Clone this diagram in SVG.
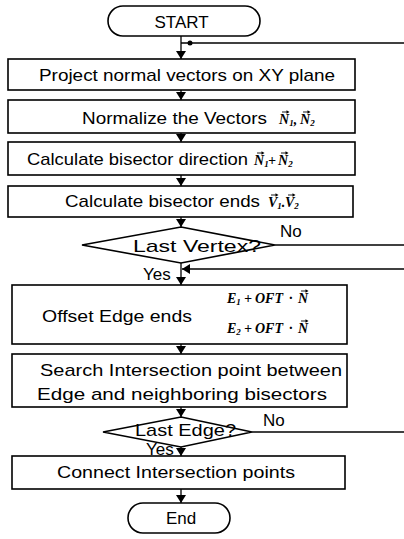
<svg xmlns="http://www.w3.org/2000/svg" xmlns:xlink="http://www.w3.org/1999/xlink" width="404" height="539" viewBox="0 0 404 539">
<style>
.box{fill:#fff;stroke:#000;stroke-width:1.6}
.ln{fill:none;stroke:#000;stroke-width:1.3}
.t{font-family:"Liberation Sans",Arial,sans-serif;font-size:17px;fill:#000}
.m{font-family:"Liberation Serif","Times New Roman",serif;font-style:italic;font-weight:bold;font-size:14px;fill:#000}
.s{font-size:9px}
</style>
<defs>
<marker id="ah" viewBox="0 0 8 10" refX="8" refY="5" markerWidth="8" markerHeight="10" markerUnits="userSpaceOnUse" orient="auto">
<path d="M0,0 L8,5 L0,10 z" fill="#000"/>
</marker>
<g id="vec">
<path d="M0,0 H6" stroke="#000" stroke-width="0.9" fill="none"/>
<path d="M4.5,-1.8 L7.5,0 L4.5,1.8 z" fill="#000"/>
</g>
</defs>
<rect width="404" height="539" fill="#fff"/>
<g id="connectors">
<line class="ln" x1="181" y1="36" x2="181" y2="59" marker-end="url(#ah)"/>
<line class="ln" x1="181" y1="43" x2="404" y2="43"/>
<circle cx="190" cy="43" r="2.5" fill="#000"/>
<line class="ln" x1="181" y1="90" x2="181" y2="100" marker-end="url(#ah)"/>
<line class="ln" x1="181" y1="133" x2="181" y2="142" marker-end="url(#ah)"/>
<line class="ln" x1="181" y1="175" x2="181" y2="186" marker-end="url(#ah)"/>
<line class="ln" x1="181" y1="217" x2="181" y2="227" marker-end="url(#ah)"/>
<line class="ln" x1="275" y1="245" x2="404" y2="245"/>
<line class="ln" x1="181" y1="263" x2="181" y2="285" marker-end="url(#ah)"/>
<line class="ln" x1="404" y1="269" x2="182" y2="269" marker-end="url(#ah)"/>
<line class="ln" x1="181" y1="344" x2="181" y2="354" marker-end="url(#ah)"/>
<line class="ln" x1="181" y1="407" x2="181" y2="417" marker-end="url(#ah)"/>
<line class="ln" x1="252" y1="432" x2="404" y2="432"/>
<line class="ln" x1="181" y1="447" x2="181" y2="456" marker-end="url(#ah)"/>
<line class="ln" x1="181" y1="489" x2="181" y2="503" marker-end="url(#ah)"/>
<text class="t" x="280" y="237" font-size="15">No</text>
<text class="t" x="143" y="280" font-size="15">Yes</text>
<text class="t" x="263" y="426" font-size="15">No</text>
<text class="t" x="146" y="455" font-size="13">Yes</text>
</g>
<g id="start">
<rect class="box" x="108" y="6" width="152" height="30" rx="15"/>
<text class="t" x="181.5" y="28" text-anchor="middle" font-size="15">START</text>
</g>
<g id="project">
<rect class="box" x="8" y="59" width="347" height="31"/>
<text class="t" x="39" y="81" textLength="296" lengthAdjust="spacingAndGlyphs">Project normal vectors on XY plane</text>
</g>
<g id="normalize">
<rect class="box" x="8" y="100" width="347" height="33"/>
<text class="t" x="82" y="124" textLength="185" lengthAdjust="spacingAndGlyphs">Normalize the Vectors</text>
<text class="m" y="124"><tspan x="279">N</tspan><tspan class="s" dy="2">1</tspan><tspan dy="-2">,</tspan><tspan x="300">N</tspan><tspan class="s" dy="2">2</tspan></text>
<use xlink:href="#vec" x="282" y="112"/>
<use xlink:href="#vec" x="303" y="112"/>
</g>
<g id="direction">
<rect class="box" x="8" y="142" width="347" height="33"/>
<text class="t" x="27" y="165" textLength="221" lengthAdjust="spacingAndGlyphs">Calculate bisector direction</text>
<text class="m" y="165"><tspan x="254">N</tspan><tspan class="s" dy="2">1</tspan><tspan dy="-2" x="268">+</tspan><tspan x="278">N</tspan><tspan class="s" dy="2">2</tspan></text>
<use xlink:href="#vec" x="257" y="153"/>
<use xlink:href="#vec" x="281" y="153"/>
</g>
<g id="ends">
<rect class="box" x="8" y="186" width="345" height="31"/>
<text class="t" x="65" y="207" textLength="195" lengthAdjust="spacingAndGlyphs">Calculate bisector ends</text>
<text class="m" y="207"><tspan x="268">V</tspan><tspan class="s" dy="2">1</tspan><tspan dy="-2">.</tspan><tspan x="285">V</tspan><tspan class="s" dy="2">2</tspan></text>
<use xlink:href="#vec" x="271" y="195"/>
<use xlink:href="#vec" x="288" y="195"/>
</g>
<g id="lastvertex">
<polygon class="box" points="181,227 275,245 181,263 82,245"/>
<text class="t" x="133" y="252" font-size="18" textLength="128" lengthAdjust="spacingAndGlyphs">Last Vertex?</text>
</g>
<g id="offset">
<rect class="box" x="12" y="285" width="335" height="59"/>
<text class="t" x="42" y="322" textLength="150" lengthAdjust="spacingAndGlyphs">Offset Edge ends</text>
<text class="m" y="303"><tspan x="227">E</tspan><tspan class="s" dy="2">1</tspan><tspan dy="-2" x="244">+</tspan><tspan x="255">OFT</tspan><tspan x="289">·</tspan><tspan x="298">N</tspan></text>
<use xlink:href="#vec" x="301" y="291"/>
<text class="m" y="333"><tspan x="227">E</tspan><tspan class="s" dy="2">2</tspan><tspan dy="-2" x="244">+</tspan><tspan x="255">OFT</tspan><tspan x="289">·</tspan><tspan x="298">N</tspan></text>
<use xlink:href="#vec" x="301" y="321"/>
</g>
<g id="search">
<rect class="box" x="12" y="354" width="335" height="53"/>
<text class="t" x="40" y="376" textLength="302" lengthAdjust="spacingAndGlyphs">Search Intersection point between</text>
<text class="t" x="37" y="400" textLength="290" lengthAdjust="spacingAndGlyphs">Edge and neighboring bisectors</text>
</g>
<g id="lastedge">
<polygon class="box" points="181,417 252,432 181,447 103,432"/>
<text class="t" x="135" y="436" font-size="16" textLength="101" lengthAdjust="spacingAndGlyphs">Last Edge?</text>
</g>
<g id="connect">
<rect class="box" x="12" y="456" width="333" height="33"/>
<text class="t" x="57" y="478" textLength="238" lengthAdjust="spacingAndGlyphs">Connect Intersection points</text>
</g>
<g id="end">
<rect class="box" x="128" y="503" width="102" height="30" rx="15"/>
<text class="t" x="181" y="524" text-anchor="middle" font-size="16">End</text>
</g>
</svg>
